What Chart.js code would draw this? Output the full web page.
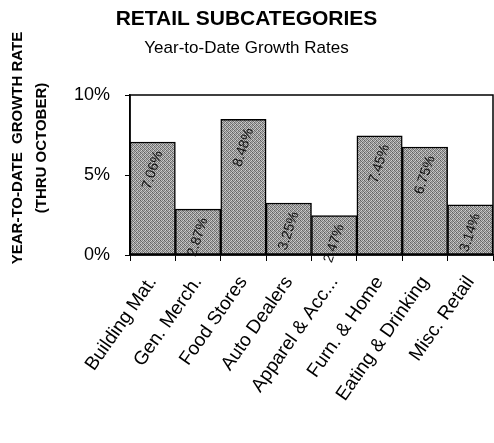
<!DOCTYPE html>
<html>
<head>
<meta charset="utf-8">
<script src="https://cdn.jsdelivr.net/npm/chart.js@4"></script>
<style>
  html, body { margin: 0; padding: 0; background: #fff; }
  #wrap { width: 494px; height: 443px; position: relative; }
</style>
</head>
<body>
<div id="wrap"><canvas id="c"></canvas></div>
<script>
const categories = ["Building Mat.", "Gen. Merch.", "Food Stores", "Auto Dealers", "Apparel & Acc...", "Furn. & Home", "Eating & Drinking", "Misc. Retail"];
const growthRates = [7.06, 2.87, 8.48, 3.25, 2.47, 7.45, 6.75, 3.14];
const yTickValues = [0, 5, 10];
const chartTitle = "RETAIL SUBCATEGORIES";
const chartSubtitle = "Year-to-Date Growth Rates";
const yTitleLines = ["YEAR-TO-DATE  GROWTH RATE", "(THRU OCTOBER)"];

const FONT = "'Liberation Sans', Arial, Helvetica, sans-serif";

// stipple pattern (deterministic dither)
function makePattern() {
  const p = document.createElement('canvas');
  p.width = 4; p.height = 4;
  const g = p.getContext('2d');
  const shades = [
    ['#5e5e5e', '#bcbcbc', '#7e7e7e', '#d0d0d0'],
    ['#a8a8a8', '#6c6c6c', '#c6c6c6', '#848484'],
    ['#808080', '#d2d2d2', '#646464', '#b0b0b0'],
    ['#c2c2c2', '#8a8a8a', '#acacac', '#707070']
  ];
  for (let y = 0; y < 4; y++) for (let x = 0; x < 4; x++) {
    g.fillStyle = shades[y][x]; g.fillRect(x, y, 1, 1);
  }
  return g.createPattern(p, 'repeat');
}

const boxPlugin = {
  id: 'boxAndLabels',
  afterDatasetsDraw(chart) {
    const ctx = chart.ctx;
    const a = chart.chartArea;
    ctx.save();
    ctx.strokeStyle = '#000';
    ctx.lineWidth = 1.5;
    ctx.strokeRect(a.left, a.top, a.right - a.left, a.bottom - a.top);
    // value labels
    const meta = chart.getDatasetMeta(0);
    ctx.fillStyle = '#111';
    ctx.font = "14px " + FONT;
    ctx.textAlign = 'center';
    ctx.textBaseline = 'middle';
    meta.data.forEach((bar, i) => {
      const v = chart.data.datasets[0].data[i];
      ctx.save();
      ctx.translate(bar.x, bar.y + 28);
      ctx.rotate(-72 * Math.PI / 180);
      ctx.fillText(v.toFixed(2) + '%', 0, 0);
      ctx.restore();
    });
    // y axis title (two lines)
    ctx.fillStyle = '#000';
    ctx.font = "bold 15px " + FONT;
    const cy = 148;
    const xs = [18, 42];
    yTitleLines.forEach((t, i) => {
      ctx.save();
      ctx.translate(xs[i], cy);
      ctx.rotate(-Math.PI / 2);
      ctx.fillText(t, 0, 0);
      ctx.restore();
    });
    ctx.restore();
  }
};

const ctx = document.getElementById('c');
new Chart(ctx, {
  type: 'bar',
  data: {
    labels: categories,
    datasets: [{
      data: growthRates,
      backgroundColor: makePattern(),
      borderColor: '#000',
      borderWidth: 1.5,
      borderSkipped: false,
      barPercentage: 1,
      categoryPercentage: 1
    }]
  },
  options: {
    responsive: true,
    maintainAspectRatio: false,
    animation: false,
    devicePixelRatio: 1,
    layout: { padding: { left: 0, right: 1, top: 0, bottom: 0 } },
    plugins: {
      legend: { display: false },
      tooltip: { enabled: false },
      title: {
        display: true,
        text: chartTitle,
        color: '#000',
        font: { family: FONT, size: 21, weight: 'bold', lineHeight: 1 },
        padding: { top: 9, bottom: 10 }
      },
      subtitle: {
        display: true,
        text: chartSubtitle,
        color: '#000',
        font: { family: FONT, size: 17, lineHeight: 1 },
        padding: { top: 0, bottom: 38 }
      }
    },
    scales: {
      x: {
        offset: true,
        grid: {
          display: true,
          offset: true,
          drawOnChartArea: false,
          drawTicks: true,
          tickLength: 6,
          color: '#000',
          lineWidth: 1
        },
        border: { display: true, color: '#000', width: 1.5 },
        ticks: {
          color: '#000',
          font: { family: FONT, size: 19 },
          minRotation: 55,
          maxRotation: 55,
          autoSkip: false,
          padding: 11
        },
        afterFit(scale) {
          scale.height = 188;
          scale.paddingLeft = 0;
          scale.paddingRight = 0;
        }
      },
      y: {
        min: 0,
        max: 10,
        afterBuildTicks(scale) { scale.ticks = yTickValues.map(v => ({ value: v })); },
        grid: {
          display: true,
          drawOnChartArea: false,
          drawTicks: true,
          tickLength: 5,
          color: '#000'
        },
        border: { display: true, color: '#000', width: 1.5 },
        ticks: {
          color: '#000',
          font: { family: FONT, size: 18 },
          padding: 15,
          callback: v => v + '%'
        },
        afterFit(scale) { scale.width = 130; }
      }
    }
  },
  plugins: [boxPlugin]
});
</script>
</body>
</html>
